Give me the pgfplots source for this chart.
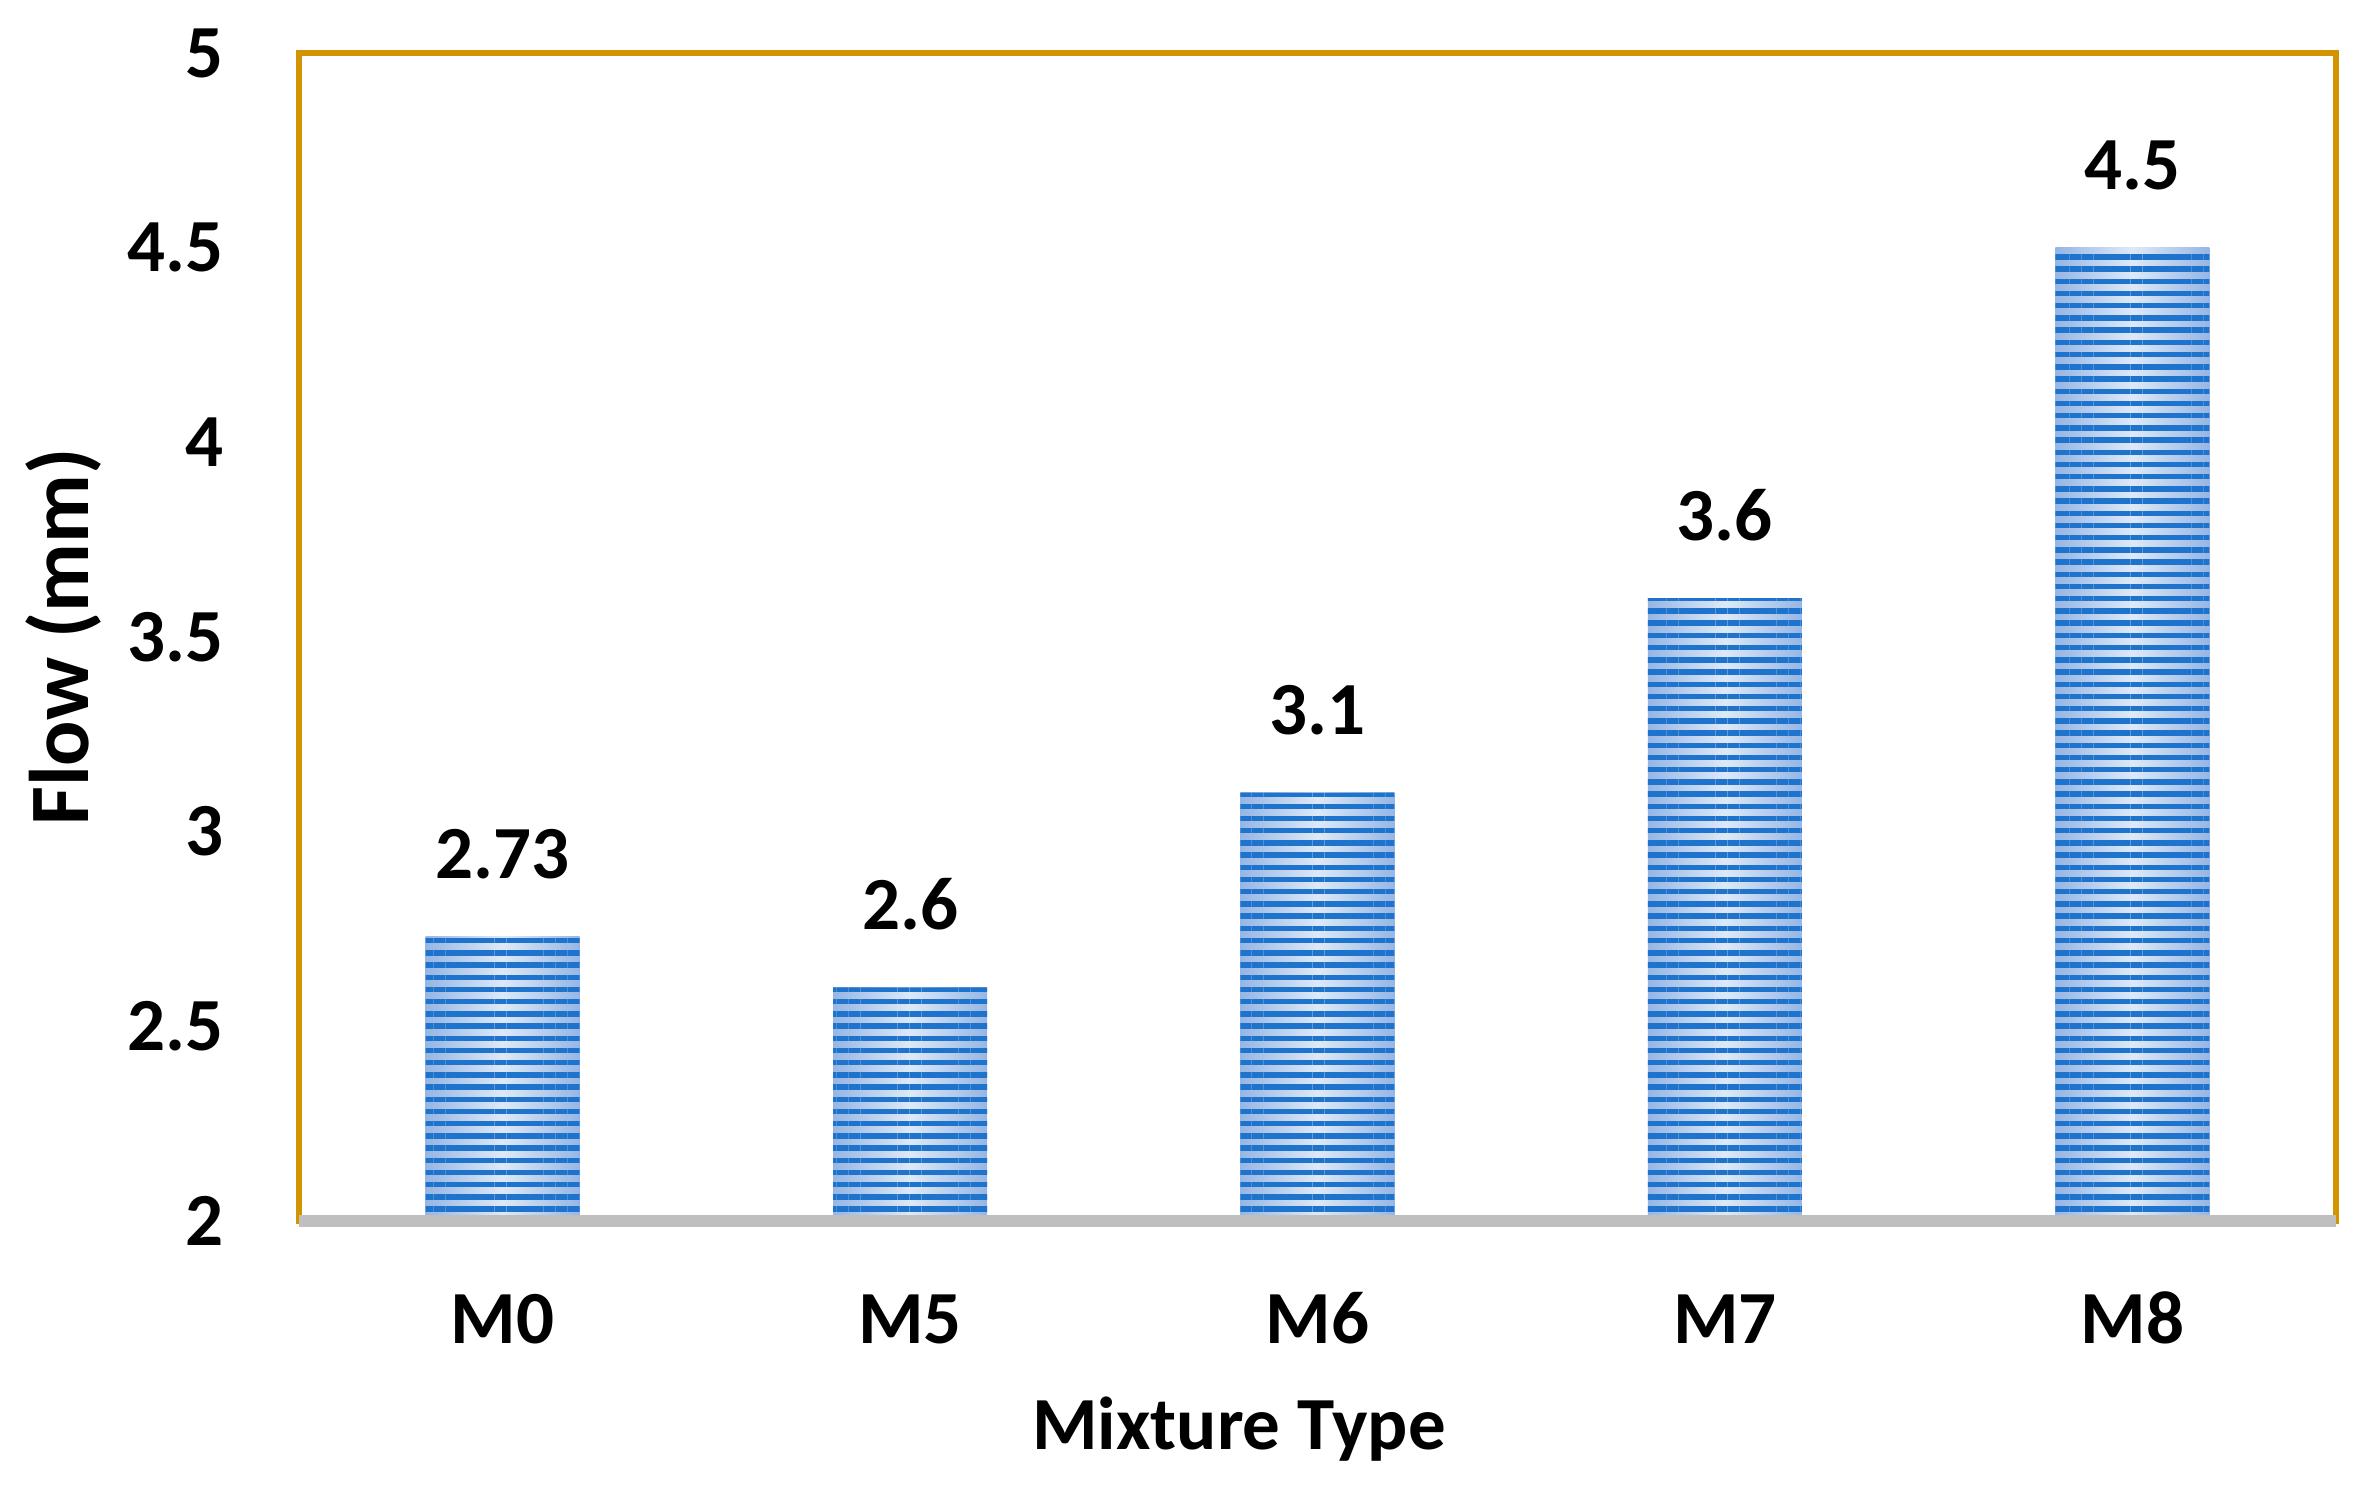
\documentclass[border=0pt]{standalone}
\usepackage{fontspec}
\setmainfont{Carlito}
\usepackage{pgfplots}
\pgfplotsset{compat=1.18}
\usetikzlibrary{patterns.meta}
\definecolor{frameorange}{RGB}{211,148,0}
\definecolor{basegray}{RGB}{191,191,191}
\definecolor{stripedark}{RGB}{30,116,205}
\definecolor{stripeedge}{RGB}{150,182,228}
\definecolor{stripemid}{RGB}{222,233,247}
\begin{document}
\begin{tikzpicture}
\useasboundingbox (0,0) rectangle (568.32pt,357.6pt);
\begin{axis}[
  at={(71.76pt,64.56pt)}, anchor=south west,
  scale only axis, width=488.88pt, height=280.32pt,
  xmin=-0.5, xmax=4.5, ymin=2, ymax=5,
  enlargelimits=false,
  clip mode=individual,
  xtick={0,1,2,3,4}, xticklabels={M0,M5,M6,M7,M8},
  ytick={2,2.5,3,3.5,4,4.5,5},
  major tick length=0pt,
  tick style={draw=none},
  axis line style={draw=frameorange, line width=1.44pt},
  /pgf/number format/assume math mode=true,
  tick label style={font=\bfseries\fontsize{18}{18}\selectfont},
  xticklabel style={anchor=base, yshift=-29.3pt},
  yticklabel style={anchor=east, inner sep=0pt, xshift=-17.8pt},
  xlabel={Mixture Type},
  xlabel style={at={(axis description cs:0.4615,-0.19606)}, anchor=base, font=\bfseries\fontsize{18}{18}\selectfont},
  ylabel={Flow (mm)},
  ylabel style={at={(axis description cs:-0.1035,0.5)}, anchor=base, font=\bfseries\fontsize{20.3}{20.3}\selectfont},
  shadedbar/.style={ybar, bar width=0.378, bar shift=0pt, draw=none,
    left color=stripeedge, right color=stripeedge, middle color=stripemid},
]
\addplot[shadedbar] coordinates {(0,2.73)};
\addplot[shadedbar] coordinates {(1,2.6)};
\addplot[shadedbar] coordinates {(2,3.1)};
\addplot[shadedbar] coordinates {(3,3.6)};
\addplot[shadedbar] coordinates {(4,4.5)};
\addplot[ybar, bar width=0.378, bar shift=0pt, draw=none,
  pattern={Lines[angle=0,distance=2.93pt,line width=1.3pt]}, pattern color=stripedark,
  nodes near coords,
  every node near coord/.append style={anchor=base, yshift=13.9pt, text=black, font=\bfseries\fontsize{18}{18}\selectfont}
] coordinates {(0,2.73) (1,2.6) (2,3.1) (3,3.6) (4,4.5)};
\draw[basegray, line width=3.1pt] (rel axis cs:0,0) -- (rel axis cs:1,0);
\end{axis}
\end{tikzpicture}
\end{document}
